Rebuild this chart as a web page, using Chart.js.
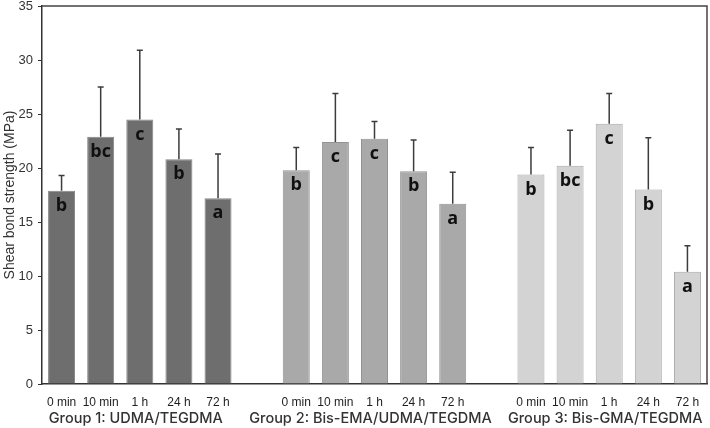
<!DOCTYPE html>
<html>
<head>
<meta charset="utf-8">
<script src="https://cdn.jsdelivr.net/npm/chart.js@4.4.1/dist/chart.umd.min.js"></script>
<style>
  html, body { margin: 0; padding: 0; background: #ffffff; }
  #wrap { width: 710px; height: 428px; position: relative; }
</style>
</head>
<body>
<div id="wrap"><canvas id="c" width="710" height="428"></canvas></div>
<script>
// ---- Data ----
const timeLabels = ['0 min', '10 min', '1 h', '24 h', '72 h'];
const groupNames = ['Group 1: UDMA/TEGDMA', 'Group 2: Bis-EMA/UDMA/TEGDMA', 'Group 3: Bis-GMA/TEGDMA'];

const group1Means = [17.9, 22.9, 24.5, 20.8, 17.2];
const group1SD    = [1.4, 4.6, 6.4, 2.8, 4.1];
const group1Sig   = ['b', 'bc', 'c', 'b', 'a'];

const group2Means = [19.8, 22.4, 22.7, 19.7, 16.7];
const group2SD    = [2.1, 4.5, 1.6, 2.9, 2.9];
const group2Sig   = ['b', 'c', 'c', 'b', 'a'];

const group3Means = [19.4, 20.2, 24.1, 18.0, 10.4];
const group3SD    = [2.5, 3.3, 2.8, 4.8, 2.4];
const group3Sig   = ['b', 'bc', 'c', 'b', 'a'];

const yTicks = [0, 5, 10, 15, 20, 25, 30, 35];

const groupFill   = ['#6e6e6e', '#a9a9a9', '#d3d3d3'];
const groupBorder = ['#858585', '#939393', '#a8a8a8'];

// ---- Build category table (an empty slot between groups) ----
const groupsMeans = [group1Means, group2Means, group3Means];
const groupsSD = [group1SD, group2SD, group3SD];
const groupsSig = [group1Sig, group2Sig, group3Sig];

const labels = [], values = [], sds = [], sigs = [], fills = [], borders = [], groupCenters = [];
groupsMeans.forEach((g, gi) => {
  if (gi > 0) { labels.push(''); values.push(null); sds.push(null); sigs.push(''); fills.push('rgba(0,0,0,0)'); borders.push('rgba(0,0,0,0)'); }
  const start = labels.length;
  g.forEach((v, i) => {
    labels.push(timeLabels[i]);
    values.push(v);
    sds.push(groupsSD[gi][i]);
    sigs.push(groupsSig[gi][i]);
    fills.push(groupFill[gi]);
    borders.push(groupBorder[gi]);
  });
  groupCenters.push((start + labels.length - 1) / 2);
});

const extrasPlugin = {
  id: 'extras',
  afterDatasetsDraw(chart) {
    const ctx = chart.ctx;
    const ys = chart.scales.y;
    const xs = chart.scales.x;
    const meta = chart.getDatasetMeta(0);
    const area = chart.chartArea;
    ctx.save();
    // error bars (upper only)
    ctx.strokeStyle = '#3c3c3c';
    ctx.lineWidth = 1.5;
    meta.data.forEach((bar, i) => {
      if (values[i] == null) return;
      const x = bar.x;
      const y0 = ys.getPixelForValue(values[i]);
      const y1 = ys.getPixelForValue(values[i] + sds[i]);
      ctx.beginPath();
      ctx.moveTo(x, y0);
      ctx.lineTo(x, y1);
      ctx.moveTo(x - 3, y1);
      ctx.lineTo(x + 3, y1);
      ctx.stroke();
    });
    // significance letters
    ctx.fillStyle = '#101010';
    ctx.font = 'bold 18px "Open Sans", "Liberation Sans", sans-serif';
    ctx.textAlign = 'center';
    ctx.textBaseline = 'middle';
    meta.data.forEach((bar, i) => {
      if (values[i] == null) return;
      ctx.fillText(sigs[i], bar.x, ys.getPixelForValue(values[i]) + 15);
    });
    // frame top & right
    ctx.strokeStyle = '#444444';
    ctx.lineWidth = 1.5;
    ctx.beginPath();
    ctx.moveTo(area.left, area.top);
    ctx.lineTo(area.right, area.top);
    ctx.lineTo(area.right, area.bottom);
    ctx.stroke();
    // group labels
    ctx.fillStyle = '#333333';
    ctx.font = '500 14.5px Inter, "Open Sans", sans-serif';
    ctx.textBaseline = 'middle';
    groupCenters.forEach((c, gi) => {
      ctx.fillText(groupNames[gi], xs.getPixelForValue(c) - 4, 419);
    });
    ctx.restore();
  }
};

new Chart(document.getElementById('c'), {
  type: 'bar',
  data: {
    labels: labels,
    datasets: [{
      data: values,
      backgroundColor: fills,
      borderColor: borders,
      borderWidth: 1,
      barPercentage: 0.69,
      categoryPercentage: 1.0
    }]
  },
  options: {
    responsive: false,
    animation: false,
    devicePixelRatio: 1,
    layout: { padding: { top: 6, right: 3, left: 0, bottom: 0 } },
    plugins: {
      legend: { display: false },
      tooltip: { enabled: false },
      title: { display: false }
    },
    scales: {
      x: {
        grid: { display: false, drawTicks: false },
        border: { display: true, color: '#333333', width: 1.5 },
        ticks: {
          color: '#1e1e1e',
          font: { family: '"Liberation Sans", Arial, sans-serif', size: 12 },
          padding: 11,
          maxRotation: 0,
          autoSkip: false
        },
        afterFit(scale) { scale.height = 44; scale.paddingLeft = 0; scale.paddingRight = 0; }
      },
      y: {
        min: 0,
        max: 35,
        afterBuildTicks(scale) { scale.ticks = yTicks.map(v => ({ value: v })); },
        grid: { drawOnChartArea: false, drawTicks: true, tickLength: 4, color: '#333333' },
        border: { display: true, color: '#333333', width: 1.5 },
        ticks: {
          color: '#333333',
          font: { family: '"Liberation Sans", Arial, sans-serif', size: 13 },
          padding: 5
        },
        title: {
          display: true,
          text: 'Shear bond strength (MPa)',
          color: '#333333',
          font: { family: '"Liberation Sans", Arial, sans-serif', size: 14 },
          padding: { top: 2, bottom: 0 }
        },
        afterFit(scale) { scale.width = 42; scale.paddingTop = 0; scale.paddingBottom = 0; }
      }
    }
  },
  plugins: [extrasPlugin]
});
</script>
</body>
</html>
